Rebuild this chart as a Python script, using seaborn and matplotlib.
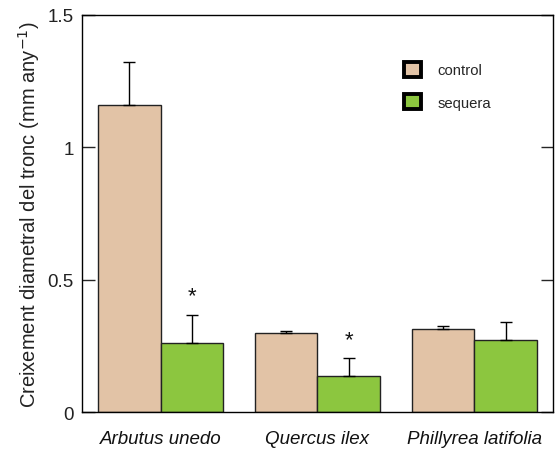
import matplotlib
matplotlib.use("Agg")
import matplotlib.pyplot as plt
import seaborn as sns
import pandas as pd
import numpy as np
from matplotlib.patches import Patch

species = ["Arbutus unedo", "Quercus ilex", "Phillyrea latifolia"]
treatments = ["control", "sequera"]
control_vals = [1.158, 0.298, 0.312]
sequera_vals = [0.260, 0.135, 0.272]
control_err = [0.162, 0.010, 0.013]
sequera_err = [0.108, 0.068, 0.068]
signif = [True, True, False]
colors = ["#E2C3A6", "#8CC63F"]

sns.set_theme(style="white")
plt.rcParams['font.family'] = ['Liberation Sans', 'DejaVu Sans']

df = pd.DataFrame({
    "species": species * 2,
    "treatment": ["control"] * 3 + ["sequera"] * 3,
    "value": control_vals + sequera_vals,
    "err": control_err + sequera_err,
})

fig = plt.figure(figsize=(5.55, 4.52), dpi=100)
ax = fig.add_axes([0.148, 0.086, 0.848, 0.879])

sns.barplot(data=df, x="species", y="value", hue="treatment", order=species,
            hue_order=treatments, palette=colors, width=0.8, errorbar=None,
            edgecolor="#222222", linewidth=1.0, saturation=1, ax=ax, legend=False)

# error bars (upper only)
for container, errs in zip(ax.containers, [control_err, sequera_err]):
    for bar, e in zip(container, errs):
        xc = bar.get_x() + bar.get_width() / 2
        h = bar.get_height()
        ax.errorbar(xc, h, yerr=[[0], [e]], fmt="none", ecolor="black",
                    elinewidth=1.0, capsize=4, capthick=1.0, zorder=3)

# significance asterisks
for i, (s, v, e) in enumerate(zip(signif, sequera_vals, sequera_err)):
    if s:
        ax.text(i + 0.2, v + e + 0.07, "*", ha="center", va="center", fontsize=16,
                color="#111111")

ax.set_xlim(-0.5, 2.5)
ax.set_ylim(0, 1.5)
ax.set_yticks([0, 0.5, 1, 1.5])
ax.set_yticklabels(["0", "0.5", "1", "1.5"])
ax.tick_params(axis="y", direction="in", length=9, width=1, labelsize=13.5,
               right=True, left=True, pad=6, labelcolor="#222222")
ax.tick_params(axis="x", length=0, labelsize=13.5, pad=13, labelcolor="#111111")
for lbl in ax.get_xticklabels():
    lbl.set_fontstyle("italic")
ax.set_xlabel("")
ax.set_ylabel("Creixement diametral del tronc (mm any$^{-1}$)", fontsize=14.5,
              labelpad=4, color="#222222")
for sp in ax.spines.values():
    sp.set_visible(True)
    sp.set_color("black")
    sp.set_linewidth(1)

handles = [Patch(facecolor=c, edgecolor="black", linewidth=2.8, label=t)
           for c, t in zip(colors, treatments)]
ax.legend(handles=handles, loc="upper left", bbox_to_anchor=(0.655, 0.915),
          frameon=False, fontsize=10.7, handlelength=1.15, handleheight=1.15,
          handletextpad=1.1, labelspacing=1.15)

fig.savefig("out.png", dpi=100)
